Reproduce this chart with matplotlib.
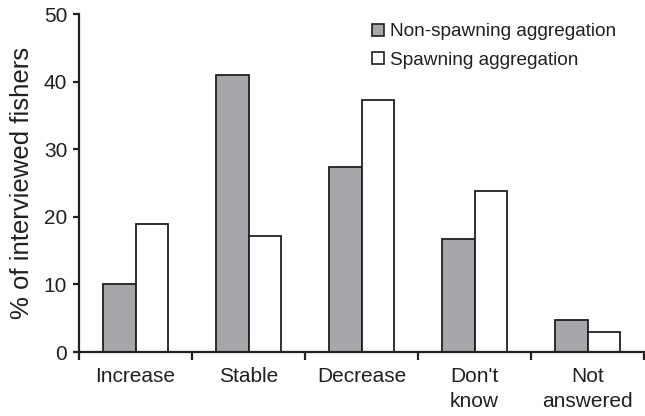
import numpy as np
import matplotlib.pyplot as plt

plt.rcParams['font.family'] = ['Liberation Sans', 'DejaVu Sans']

categories = ["Increase", "Stable", "Decrease", "Don't\nknow", "Not\nanswered"]
non_spawning = [10.1, 41.0, 27.3, 16.7, 4.8]
spawning = [19.0, 17.2, 37.3, 23.8, 3.0]

txt = '#231f20'
fig = plt.figure(figsize=(6.45, 4.16), dpi=100)
ax = fig.add_axes([79/645, 64/416, 565/645, 338/416])

x = np.arange(len(categories))
w = 0.29
ax.bar(x - w/2, non_spawning, w, color='#a6a7aa', edgecolor=txt, lw=1.3,
       label='Non-spawning aggregation')
ax.bar(x + w/2, spawning, w, color='white', edgecolor=txt, lw=1.3,
       label='Spawning aggregation')

ax.set_xlim(-0.5, 4.5)
ax.set_ylim(0, 50)
ax.set_yticks(range(0, 51, 10))
ax.set_xticks(x)
ax.set_xticklabels(categories, fontsize=15, color=txt, va='top', linespacing=1.4)
ax.set_xticks(np.arange(-0.5, 5, 1), minor=True)
ax.tick_params(axis='x', which='major', length=0, pad=11)
ax.tick_params(axis='x', which='minor', length=6, width=1.6, color=txt, direction='out')
ax.tick_params(axis='y', length=4.5, width=1.6, color=txt, labelsize=15, labelcolor=txt, pad=4)

for s in ['top', 'right']:
    ax.spines[s].set_visible(False)
for s in ['left', 'bottom']:
    ax.spines[s].set_linewidth(1.6)
    ax.spines[s].set_color(txt)
    ax.spines[s].set_clip_on(False)

ax.set_ylabel('% of interviewed fishers', fontsize=18.5, color=txt, labelpad=7)

leg = ax.legend(loc='upper left', bbox_to_anchor=(0.519, 0.972), frameon=False,
                fontsize=13.7, handlelength=0.63, handleheight=0.63,
                handletextpad=0.28, labelspacing=0.58, borderpad=0, borderaxespad=0)
for t in leg.get_texts():
    t.set_color(txt)
for h in leg.legend_handles:
    h.set_linewidth(1.2)

fig.savefig('out.png', dpi=100)
